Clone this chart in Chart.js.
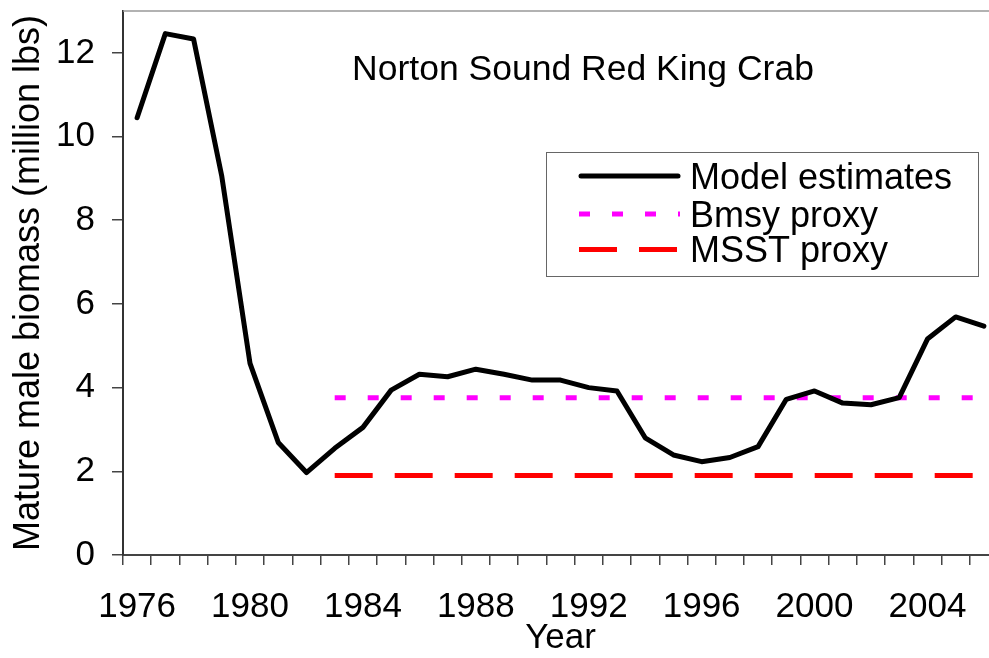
<!DOCTYPE html>
<html>
<head>
<meta charset="utf-8">
<script src="https://cdn.jsdelivr.net/npm/chart.js@4.4.1/dist/chart.umd.min.js"></script>
<style>
  html, body { margin: 0; padding: 0; background: #fff; }
  #wrap { width: 989px; height: 658px; overflow: hidden; position: relative; }
  #chart { display: block; }
</style>
</head>
<body>
<div id="wrap"><canvas id="chart" width="1000" height="658"></canvas></div>
<script>
// Norton Sound red king crab, mature male biomass (million lbs)
const years = ['1976', '1977', '1978', '1979', '1980', '1981', '1982', '1983', '1984', '1985',
  '1986', '1987', '1988', '1989', '1990', '1991', '1992', '1993', '1994', '1995',
  '1996', '1997', '1998', '1999', '2000', '2001', '2002', '2003', '2004', '2005', '2006'];
const modelEstimates = [10.45, 12.46, 12.33, 9.05, 4.58, 2.69, 1.97, 2.55, 3.05, 3.94,
  4.32, 4.26, 4.44, 4.32, 4.18, 4.18, 4.00, 3.92, 2.80, 2.39,
  2.23, 2.33, 2.59, 3.72, 3.92, 3.63, 3.59, 3.76, 5.16, 5.69, 5.47];
const bmsyProxy = [{ x: '1983', y: 3.76 }, { x: '2006', y: 3.76 }];
const msstProxy = [{ x: '1983', y: 1.90 }, { x: '2006', y: 1.90 }];
const xTickLabels = ['1976', '1980', '1984', '1988', '1992', '1996', '2000', '2004'];
const yTicks = [0, 2, 4, 6, 8, 10, 12];

const FONT = "'Liberation Sans', Arial, sans-serif";

// top border of the plot area
const frameLine = {
  id: 'frameLine',
  afterDraw(chart) {
    const { ctx, chartArea } = chart;
    ctx.save();
    ctx.strokeStyle = '#999';
    ctx.lineWidth = 1.5;
    ctx.beginPath();
    ctx.moveTo(chartArea.left, chartArea.top);
    ctx.lineTo(chartArea.right, chartArea.top);
    ctx.stroke();
    ctx.restore();
  }
};

// title inside the plot
const innerTitle = {
  id: 'innerTitle',
  afterDraw(chart) {
    const ctx = chart.ctx;
    ctx.save();
    ctx.font = '35.5px ' + FONT;
    ctx.fillStyle = '#000';
    ctx.textAlign = 'center';
    ctx.textBaseline = 'alphabetic';
    ctx.fillText('Norton Sound Red King Crab', 583, 80);
    ctx.restore();
  }
};

// boxed legend inside the plot, styles taken from the datasets
const boxLegend = {
  id: 'boxLegend',
  afterDraw(chart) {
    const ctx = chart.ctx;
    const rows = [176, 214, 249.5];
    ctx.save();
    ctx.fillStyle = '#fff';
    ctx.fillRect(546.5, 152.5, 432, 124);
    ctx.strokeStyle = '#666';
    ctx.lineWidth = 1;
    ctx.strokeRect(546.5, 152.5, 432, 124);
    chart.data.datasets.forEach((ds, i) => {
      const y = rows[i];
      ctx.strokeStyle = ds.borderColor;
      ctx.lineWidth = ds.borderWidth;
      ctx.lineCap = ds.borderCapStyle || 'butt';
      ctx.setLineDash(ds.borderDash || []);
      ctx.beginPath();
      if (ds.borderCapStyle === 'round') {
        ctx.moveTo(581, y);
        ctx.lineTo(678, y);
      } else {
        ctx.moveTo(579, y);
        ctx.lineTo(680, y);
      }
      ctx.stroke();
      ctx.setLineDash([]);
      ctx.font = '36px ' + FONT;
      ctx.fillStyle = '#000';
      ctx.textAlign = 'left';
      ctx.textBaseline = 'alphabetic';
      ctx.fillText(ds.label, 690, y + 12.5);
    });
    ctx.restore();
  }
};

new Chart(document.getElementById('chart'), {
  type: 'line',
  data: {
    labels: years,
    datasets: [{
      label: 'Model estimates',
      data: modelEstimates,
      borderColor: '#000',
      borderWidth: 5,
      borderCapStyle: 'round',
      borderJoinStyle: 'round',
      pointRadius: 0,
      tension: 0
    }, {
      label: 'Bmsy proxy',
      data: bmsyProxy,
      borderColor: '#FF00FF',
      borderWidth: 5,
      borderDash: [11, 22],
      pointRadius: 0
    }, {
      label: 'MSST proxy',
      data: msstProxy,
      borderColor: '#FF0000',
      borderWidth: 5,
      borderDash: [38, 22],
      pointRadius: 0
    }]
  },
  options: {
    responsive: false,
    animation: false,
    layout: { padding: { left: 0, right: 2, top: 11, bottom: 0 } },
    plugins: {
      legend: { display: false },
      title: { display: false },
      tooltip: { enabled: false }
    },
    scales: {
      x: {
        type: 'category',
        offset: true,
        grid: {
          offset: true,
          drawOnChartArea: false,
          drawTicks: true,
          tickLength: 10,
          color: '#444',
          lineWidth: 1.5
        },
        border: { display: true, color: '#444', width: 2 },
        ticks: {
          autoSkip: false,
          maxRotation: 0,
          padding: 21,
          color: '#000',
          font: { family: FONT, size: 35 },
          callback: function (value) {
            const lab = this.getLabelForValue(value);
            return xTickLabels.includes(lab) ? lab : '';
          }
        },
        title: {
          display: true,
          text: 'Year',
          color: '#000',
          font: { family: FONT, size: 35, lineHeight: 1 },
          padding: { top: 0, bottom: 2 }
        },
        afterFit(scale) {
          scale.height = 103;
          scale.paddingLeft = 0;
          scale.paddingRight = 0;
        }
      },
      y: {
        min: 0,
        max: 13,
        grid: {
          drawOnChartArea: false,
          drawTicks: true,
          tickLength: 11,
          color: '#444',
          lineWidth: 1.5
        },
        border: { display: true, color: '#333', width: 2 },
        afterBuildTicks(scale) { scale.ticks = yTicks.map(v => ({ value: v })); },
        ticks: {
          padding: 17,
          color: '#000',
          font: { family: FONT, size: 35 }
        },
        title: {
          display: true,
          text: 'Mature male biomass (million lbs)',
          color: '#000',
          font: { family: FONT, size: 36, lineHeight: 1 },
          padding: { top: 11, bottom: 0 }
        },
        afterFit(scale) {
          scale.width = 123;
          scale.paddingTop = 0;
          scale.paddingBottom = 0;
        }
      }
    }
  },
  plugins: [frameLine, innerTitle, boxLegend]
});
</script>
</body>
</html>
